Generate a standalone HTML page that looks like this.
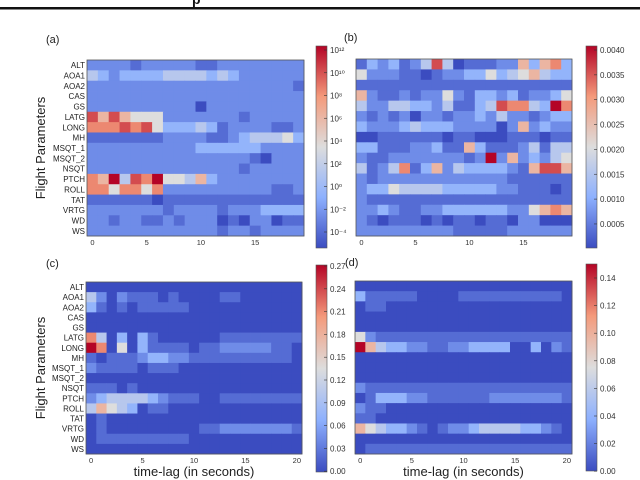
<!DOCTYPE html>
<html><head><meta charset="utf-8"><style>
body{margin:0;background:#fff;width:640px;height:480px;overflow:hidden;font-family:"Liberation Sans","DejaVu Sans",sans-serif}
svg{display:block}
</style></head><body>
<svg id="fig" width="640" height="480" xmlns="http://www.w3.org/2000/svg">
<rect x="0" y="7" width="640" height="2.5" fill="#111"/>
<text x="192" y="4" font-size="14" font-weight="bold" fill="#111">p</text>
</svg>
<script>
const params=["ALT","AOA1","AOA2","CAS","GS","LATG","LONG","MH","MSQT_1","MSQT_2","NSQT","PTCH","ROLL","TAT","VRTG","WD","WS"];
const ticksA=["10\u00B9\u00B2","10\u00B9\u2070","10\u2078","10\u2076","10\u2074","10\u00B2","10\u2070","10\u207B\u00B2","10\u207B\u2074"];
const ticksB=["0.0040","0.0035","0.0030","0.0025","0.0020","0.0015","0.0010","0.0005"];
const ticksC=["0.27","0.24","0.21","0.18","0.15","0.12","0.09","0.06","0.03","0.00"];
const ticksD=["0.14","0.12","0.10","0.08","0.06","0.04","0.02","0.00"];
const xticks20=["0","5","10","15"];
const xticks21=["0","5","10","15","20"];
// color level per cell (0 = darkest blue .. 9 = darkest red)
const dataA=[
[2,2,2,2,1,2,2,2,2,2,1,1,2,2,2,2,2,2,2,2],
[4,3,2,3,3,3,3,4,4,4,4,3,4,3,2,2,2,2,2,2],
[2,2,2,2,2,2,2,2,2,2,2,2,2,2,2,2,2,2,2,1],
[2,2,2,2,2,2,2,2,2,2,2,2,2,2,2,2,2,2,2,2],
[2,2,2,2,2,2,2,2,2,2,0,2,2,2,2,2,2,2,2,2],
[8,6,8,6,5,5,5,2,2,2,2,2,2,2,1,2,2,2,2,2],
[7,7,7,8,7,8,5,3,3,3,4,3,1,2,2,2,2,1,1,2],
[1,1,1,1,1,1,1,2,2,2,2,1,1,2,3,4,4,4,5,3],
[2,2,2,2,2,2,2,2,2,2,3,3,3,3,3,3,2,2,2,2],
[2,2,2,2,2,2,2,2,2,2,2,2,2,2,2,1,0,2,2,2],
[2,2,2,2,2,2,2,2,2,2,2,2,2,2,1,2,2,2,2,2],
[7,6,9,4,8,7,9,5,5,4,6,3,2,2,2,2,2,2,2,2],
[7,7,5,7,7,5,7,2,2,2,2,2,2,2,2,2,2,1,1,2],
[1,1,1,1,1,1,0,1,1,1,1,1,1,1,1,1,1,1,1,1],
[2,2,2,2,2,2,2,1,2,2,2,2,1,2,2,2,3,3,3,3],
[2,2,1,2,2,1,1,2,1,2,2,2,0,1,0,2,2,0,1,1],
[2,2,2,2,2,2,2,2,2,2,2,2,1,2,2,1,2,2,2,2]];
const dataB=[
[1,3,2,3,1,2,4,8,4,0,1,1,1,2,2,6,3,6,7,3],
[5,2,2,2,1,1,0,1,2,2,3,3,5,3,4,5,6,4,3,3],
[1,1,1,1,1,1,1,1,1,1,1,1,1,1,1,1,1,1,1,1],
[6,2,1,1,2,1,2,2,5,2,1,3,3,2,3,1,2,2,3,5],
[4,2,2,4,4,3,3,2,4,1,1,3,4,8,7,7,4,3,9,7],
[2,1,2,1,2,0,2,2,1,2,2,3,2,4,2,2,1,2,3,3],
[3,2,2,2,3,4,3,3,3,2,2,2,2,0,2,6,2,3,2,2],
[0,0,1,1,1,1,1,1,0,1,1,0,0,0,1,1,1,0,1,1],
[3,3,1,1,1,2,2,3,1,1,6,3,1,1,1,2,4,1,4,4],
[2,1,1,2,2,2,2,2,2,2,1,2,9,2,6,2,3,2,4,5],
[4,1,2,4,7,1,3,6,2,4,3,3,3,3,2,1,6,8,8,6],
[2,1,2,2,2,2,2,2,2,2,2,2,2,2,1,1,1,1,1,1],
[2,3,3,5,4,4,4,4,3,3,3,3,3,2,2,1,1,1,0,1],
[2,1,1,1,1,1,1,1,1,1,1,1,1,1,1,1,1,1,1,1],
[2,2,3,2,1,1,2,2,3,3,3,3,3,3,2,2,5,6,7,6],
[2,1,0,1,1,1,0,1,0,1,1,0,1,1,0,2,2,0,0,0],
[2,2,2,2,2,2,2,2,2,1,1,1,1,1,2,2,2,2,2,2]];
const dataC=[
[0,0,0,0,0,0,0,0,0,0,0,0,0,0,0,0,0,0,0,0,0],
[4,2,0,2,1,1,1,0,1,0,0,0,0,1,1,0,0,0,0,0,0],
[3,1,0,1,0,1,1,1,1,1,0,0,0,0,0,0,0,0,0,0,0],
[0,0,0,0,0,0,0,0,0,0,0,0,0,0,0,0,0,0,0,0,0],
[0,0,0,0,0,0,0,0,0,0,0,0,0,0,0,0,0,0,0,0,0],
[7,4,0,3,0,3,1,0,0,0,0,0,0,1,1,1,1,1,1,1,1],
[9,7,0,5,0,3,1,1,1,1,0,1,1,2,2,2,2,2,1,1,0],
[1,0,1,1,1,2,3,3,2,2,1,1,1,1,1,1,1,1,1,1,0],
[2,1,1,1,1,0,1,1,1,0,0,0,0,0,0,0,0,0,0,0,0],
[0,0,0,0,0,0,0,0,0,0,0,0,0,0,0,0,0,0,0,0,0],
[1,1,1,0,1,0,0,0,0,0,0,0,0,0,0,0,0,0,0,0,0],
[2,3,4,4,4,4,3,2,1,1,1,0,0,1,1,1,1,1,1,1,1],
[4,6,5,4,3,0,1,1,0,0,0,0,0,0,0,0,0,0,0,0,0],
[0,1,0,0,0,0,0,0,0,0,0,0,0,0,0,0,0,0,0,0,0],
[0,1,0,0,0,0,0,0,0,0,0,1,1,2,2,2,2,2,2,2,1],
[0,1,1,1,1,1,1,1,1,1,0,0,0,0,0,0,0,0,0,0,0],
[0,0,0,0,0,0,0,0,0,0,0,0,0,0,0,0,0,0,0,0,0]];
const dataD=[
[0,0,0,0,0,0,0,0,0,0,0,0,0,0,0,0,0,0,0,0,0],
[3,1,1,1,1,1,0,0,0,0,1,1,1,1,1,1,1,1,1,1,0],
[0,1,1,0,0,0,0,0,0,0,0,0,0,0,0,0,0,0,0,0,0],
[0,0,0,0,0,0,0,0,0,0,0,0,0,0,0,0,0,0,0,0,0],
[0,0,0,0,0,0,0,0,0,0,0,0,0,0,0,0,0,0,0,0,0],
[5,2,1,1,1,1,1,1,1,1,1,1,1,1,1,1,1,1,1,1,1],
[9,6,4,3,3,2,2,1,1,2,2,3,3,3,3,0,0,3,0,2,1],
[0,0,0,0,0,0,0,0,0,0,0,0,0,0,0,0,0,0,0,0,0],
[0,0,0,0,0,0,0,0,0,0,0,0,0,0,0,0,0,0,0,0,0],
[0,0,0,0,0,0,0,0,0,0,0,0,0,0,0,0,0,0,0,0,0],
[2,1,1,1,1,1,1,1,1,1,1,1,1,1,1,1,1,1,1,1,1],
[0,1,3,3,3,2,2,1,1,1,1,1,1,2,2,2,2,2,2,2,1],
[2,1,1,0,0,0,0,0,0,0,0,0,0,0,0,0,0,0,0,0,0],
[1,1,0,0,0,0,0,0,0,0,0,0,0,0,0,0,0,0,0,0,0],
[6,5,4,3,3,2,1,0,1,2,2,3,4,4,4,4,3,3,2,1,0],
[0,0,0,0,0,0,0,0,0,0,0,0,0,0,0,0,0,0,0,0,0],
[0,1,1,1,1,1,1,1,1,1,1,1,1,1,1,1,1,1,1,1,1]];

const NS="http://www.w3.org/2000/svg";
const svg=document.getElementById('fig');
const levelFrac=[0,0.08,0.16,0.27,0.38,0.5,0.65,0.78,0.88,1.0];
const cmap=[[0,[59,76,192]],[0.25,[141,176,254]],[0.5,[221,221,221]],[0.75,[244,154,123]],[1,[180,4,38]]];
function color(f){
  for(let i=0;i<cmap.length-1;i++){
    const [a,ca]=cmap[i],[b,cb]=cmap[i+1];
    if(f<=b){const t=(f-a)/(b-a);return 'rgb('+ca.map((c,k)=>Math.round(c+(cb[k]-c)*t)).join(',')+')';}
  }
  return 'rgb(180,4,38)';
}
function el(tag,attrs,parent){const e=document.createElementNS(NS,tag);for(const k in attrs)e.setAttribute(k,attrs[k]);(parent||svg).appendChild(e);return e;}

function panel(id,data,x0,y0,w,h,xt,step,labels,cb,ticks,letter,lx,ly,showX){
  const g=el('g',{});
  
  
  const nr=data.length,nc=data[0].length,cw=w/nc,rh=h/nr;
  const xs=c=>x0+c*cw, ys=r=>y0+r*rh;
  data.forEach((row,r)=>row.forEach((v,c)=>{
    const cell=el('rect',{x:xs(c),y:ys(r),width:cw+0.4,height:rh+0.4,fill:color(levelFrac[v])},g);
    
    
  }));
  const fr=el('rect',{x:x0,y:y0,width:w,height:h,fill:'none',stroke:'#555','stroke-width':0.8},g);
  
  
  xt.forEach((t,i)=>{
    const tx=xs(i*step)+cw/2;
    const tt=el('text',{x:tx,y:y0+h+9,'font-size':7.5,'text-anchor':'middle',fill:'#333'},g);
    tt.textContent=t;
    
    
  });
  if(labels){labels.forEach((p,r)=>{
    const tt=el('text',{x:x0-2,y:ys(r)+rh/2+3,'font-size':8,'text-anchor':'end',fill:'#222'},g);
    tt.textContent=p;
    
    
  });
    const yl=el('text',{x:0,y:0,'font-size':13,'text-anchor':'middle',fill:'#222',transform:'translate(45,'+(y0+h/2)+') rotate(-90)'},g);
    yl.textContent='Flight Parameters';
    
    
  }
  if(showX){
    const xl=el('text',{x:x0+w/2,y:476,'font-size':13,'text-anchor':'middle',fill:'#222'},g);
    xl.textContent='time-lag (in seconds)';
    
    
  }
  const lt=el('text',{x:lx,y:ly,'font-size':11,fill:'#222'},g);
  lt.textContent='('+letter+')';
  
  
  // colorbar
  const gid='grad'+id;
  const defs=el('defs',{},g);
  const lg=el('linearGradient',{id:gid,x1:0,y1:1,x2:0,y2:0},defs);
  cmap.forEach(([o,c])=>el('stop',{offset:o,'stop-color':'rgb('+c.join(',')+')'},lg));
  const bar=el('rect',{x:cb.x,y:cb.y,width:11,height:cb.h,fill:'url(#'+gid+')',stroke:'#555','stroke-width':0.6},g);
  
  
  ticks.forEach((t,i)=>{
    const ty=cb.t0+i*cb.sp;
    el('line',{x1:cb.x+11,x2:cb.x+8,y1:ty,y2:ty,stroke:'#333','stroke-width':0.6},g);
    const tt=el('text',{x:cb.x+14,y:ty+3,'font-size':8,fill:'#333'},g);
    tt.textContent=t;
    
    
  });
}
panel('a',dataA,87,60,217,176,xticks20,5,params,{x:316,y:46,h:202,t0:50,sp:22.75},ticksA,'a',46,43,false);
panel('b',dataB,356,59,216,177,xticks20,5,null,{x:586,y:46,h:202,t0:50,sp:24.85},ticksB,'b',344,41,false);
panel('c',dataC,86,282,216,172,xticks21,5,params,{x:316,y:265,h:207,t0:266,sp:22.8},ticksC,'c',46,267,true);
panel('d',dataD,355,281,217,173,xticks21,5,null,{x:586,y:264,h:207,t0:278,sp:27.6},ticksD,'d',345,266,true);
</script>
</body></html>
